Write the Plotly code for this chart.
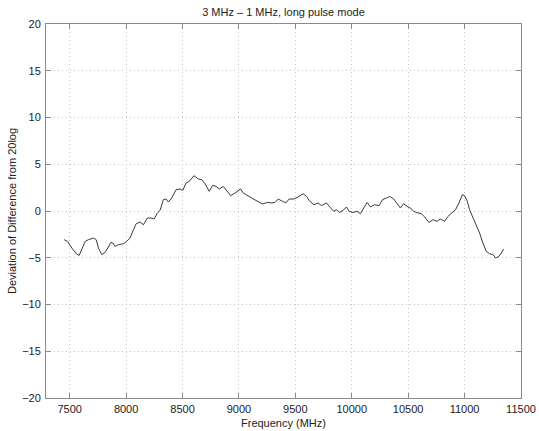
import plotly.graph_objects as go

# Frequency sweep (MHz) and measured deviation (dB)
freq_mhz = [
    7451, 7481, 7519, 7558, 7584, 7608, 7637, 7666, 7711, 7735,
    7755, 7785, 7814, 7843, 7865, 7882, 7903, 7932, 7976, 8006,
    8035, 8065, 8089, 8124, 8153, 8189, 8219, 8248, 8277, 8301,
    8330, 8354, 8374, 8404, 8443, 8478, 8502, 8531, 8560, 8602,
    8640, 8670, 8699, 8737, 8767, 8797, 8826, 8861, 8891, 8927,
    8956, 8985, 9015, 9038, 9074, 9112, 9151, 9186, 9210, 9251,
    9289, 9319, 9348, 9387, 9416, 9445, 9487, 9525, 9569, 9599,
    9622, 9664, 9702, 9732, 9776, 9805, 9841, 9865, 9888, 9923,
    9953, 9976, 10012, 10047, 10077, 10106, 10136, 10166, 10204, 10242,
    10272, 10307, 10336, 10372, 10401, 10431, 10460, 10490, 10520, 10549,
    10587, 10617, 10646, 10684, 10720, 10755, 10785, 10823, 10852, 10891,
    10920, 10950, 10980, 11000, 11021, 11044, 11074, 11104, 11133, 11162,
    11192, 11221, 11251, 11275, 11304, 11325, 11346,
]
deviation_db = [
    -3.07, -3.25, -3.96, -4.57, -4.75, -4.14, -3.25, -3.07, -2.89, -3.07,
    -3.96, -4.67, -4.43, -3.85, -3.36, -3.42, -3.79, -3.6, -3.5, -3.25,
    -2.89, -2.0, -1.36, -1.18, -1.47, -0.75, -0.75, -0.86, -0.21, 0.06,
    1.21, 1.28, 0.96, 1.39, 2.28, 2.35, 2.2, 2.99, 3.17, 3.78,
    3.42, 3.35, 2.92, 2.1, 2.74, 2.63, 2.35, 2.63, 2.2, 1.64,
    1.85, 2.06, 2.35, 1.93, 1.64, 1.39, 1.13, 0.86, 0.75, 0.92,
    0.86, 0.92, 1.28, 1.03, 0.86, 1.28, 1.28, 1.5, 1.85, 1.56,
    1.13, 0.67, 0.86, 0.57, 0.86, 0.43, -0.04, 0.14, -0.15, 0.06,
    0.43, -0.04, -0.15, -0.04, -0.29, 0.32, 0.92, 0.43, 0.67, 0.57,
    1.21, 1.39, 1.56, 1.28, 0.86, 0.32, 0.78, 0.49, 0.32, -0.04,
    -0.21, -0.29, -0.64, -1.22, -0.93, -1.11, -0.86, -1.11, -0.58, -0.21,
    0.14, 0.86, 1.74, 1.64, 1.13, 0.14, -0.75, -1.47, -2.35, -3.42,
    -4.32, -4.57, -4.67, -5.03, -4.86, -4.49, -4.06,
]

x_ticks = [7500, 8000, 8500, 9000, 9500, 10000, 10500, 11000, 11500]
x_tick_labels = ["7500", "8000", "8500", "9000", "9500", "10000", "10500", "11000", "11500"]
y_ticks = [-20, -15, -10, -5, 0, 5, 10, 15, 20]

font_family = "Liberation Sans, Arial, sans-serif"
text_color = "#222"
label_font = dict(family=font_family, size=11, color=text_color)

fig = go.Figure(
    go.Scatter(
        x=freq_mhz,
        y=deviation_db,
        mode="lines",
        line=dict(color="#3a3a3a", width=1),
        hoverinfo="skip",
    )
)

axis_common = dict(
    showgrid=True,
    gridcolor="#c4c4c4",
    griddash="1px,3px",
    gridwidth=1,
    showline=True,
    linecolor="#8a8a8a",
    linewidth=1,
    mirror="ticks",
    ticks="inside",
    ticklen=5,
    tickcolor="#8a8a8a",
    zeroline=False,
    automargin=False,
    tickfont=label_font,
)

fig.update_xaxes(
    range=[7290, 11500],
    tickvals=x_ticks,
    ticktext=x_tick_labels,
    ticklabelstandoff=1,
    **axis_common,
)
fig.update_yaxes(
    range=[-20, 20],
    tickvals=y_ticks,
    ticklabelstandoff=2,
    **axis_common,
)

fig.update_layout(
    width=539,
    height=431,
    margin=dict(l=46, r=18, t=24, b=33),
    paper_bgcolor="white",
    plot_bgcolor="white",
    showlegend=False,
    title=dict(
        text="3 MHz – 1 MHz, long pulse mode",
        x=0.5,
        xref="paper",
        y=1 - 12 / 431,
        yanchor="middle",
        font=label_font,
    ),
    annotations=[
        dict(
            text="Frequency (MHz)",
            xref="paper", yref="paper",
            x=0.5, y=-24.5 / 374,
            xanchor="center", yanchor="middle",
            showarrow=False, font=label_font,
        ),
        dict(
            text="Deviation of Difference from 20log",
            xref="paper", yref="paper",
            x=-34 / 475, y=0.5,
            xanchor="center", yanchor="middle",
            textangle=-90,
            showarrow=False, font=label_font,
        ),
    ],
)

fig.write_html("out.html")
